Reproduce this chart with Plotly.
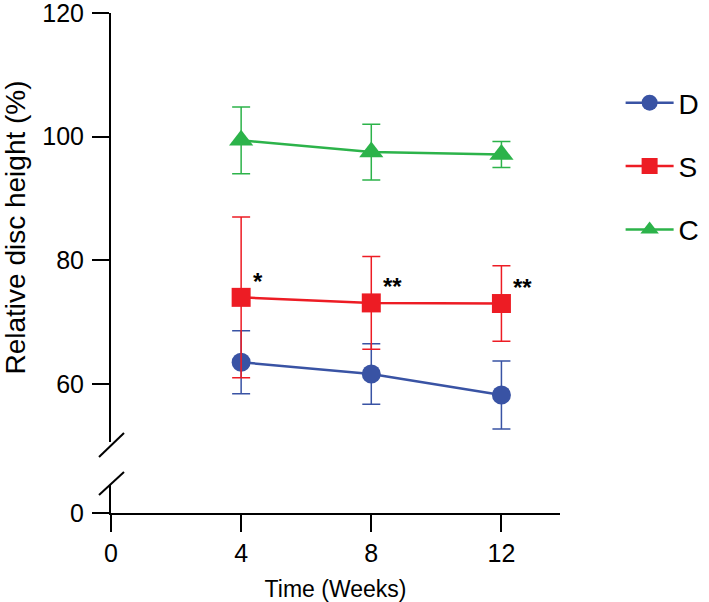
import plotly.graph_objects as go

weeks = [4, 8, 12]
groups = ["D", "S", "C"]
d_mean = [63.5, 61.6, 58.2]
d_err = [5.1, 4.9, 5.5]
s_mean = [74.0, 73.1, 73.0]
s_err = [13.0, 7.5, 6.1]
c_mean = [99.4, 97.5, 97.1]
c_err = [5.4, 4.5, 2.1]
stars = ["*", "**", "**"]

colors = {"D": "#3953a4", "S": "#ed1c24", "C": "#2cb34a"}
symbols = {"D": "circle", "S": "square", "C": "triangle-up"}
series = {"D": (d_mean, d_err), "S": (s_mean, s_err), "C": (c_mean, c_err)}
FONT = "Liberation Sans, Arial, sans-serif"

fig = go.Figure()
for g in groups:
    mean, err = series[g]
    fig.add_trace(
        go.Scatter(
            x=weeks,
            y=mean,
            name=g,
            legendgroup=g,
            mode="lines+markers",
            line=dict(color=colors[g], width=2.5),
            marker=dict(symbol=symbols[g], size=19 if g != "C" else 21, color=colors[g]),
            error_y=dict(type="data", array=err, color=colors[g], thickness=1.5, width=9),
            yaxis="y",
        )
    )

# empty trace so the lower (broken) y axis gets drawn
fig.add_trace(go.Scatter(x=[None], y=[None], yaxis="y2", showlegend=False, hoverinfo="skip"))

# significance marks next to the S points
for w, m, s in zip(weeks, s_mean, stars):
    fig.add_annotation(
        x=w, y=m, text=f"<b>{s}</b>", showarrow=False,
        xanchor="left", yanchor="middle", xshift=10, yshift=16,
        font=dict(size=24, color="black", family=FONT),
    )

# axis break marks (pixel positions -> paper coords)
def px_x(p):
    return (p - 111) / 449


def px_y(p):
    return (513 - p) / 500


for (x0, y0, x1, y1) in [(99, 457, 124, 433), (99, 495, 124, 472)]:
    fig.add_shape(
        type="line", xref="paper", yref="paper",
        x0=px_x(x0), y0=px_y(y0), x1=px_x(x1), y1=px_y(y1),
        line=dict(color="black", width=2),
    )

axis_style = dict(
    showline=True, linecolor="black", linewidth=2,
    ticks="outside", ticklen=17, tickwidth=2, tickcolor="black",
    showgrid=False, zeroline=False, automargin=False,
    ticklabeloverflow="allow",
    tickfont=dict(size=25, color="black", family=FONT),
)

fig.update_layout(
    width=709,
    height=602,
    margin=dict(l=111, r=149, t=13, b=89, autoexpand=False),
    plot_bgcolor="white",
    paper_bgcolor="white",
    font=dict(family=FONT, color="black"),
    xaxis=dict(
        range=[0, 13.8], tickvals=[0, 4, 8, 12], anchor="y2",
        title=dict(text="Time (Weeks)", font=dict(size=23), standoff=15),
        **axis_style,
    ),
    yaxis=dict(
        domain=[0.142, 1], range=[50.6, 120], tickvals=[60, 80, 100, 120], anchor="x",
        title=dict(text="Relative disc height (%)", font=dict(size=28), standoff=17),
        ticklabelstandoff=3,
        **axis_style,
    ),
    yaxis2=dict(
        domain=[0, 0.056], range=[0, 4.5], tickvals=[0], anchor="x",
        ticklabelstandoff=3,
        **axis_style,
    ),
    legend=dict(
        x=1.135, y=0.87, xanchor="left", yanchor="top",
        font=dict(size=28, color="black"),
        tracegroupgap=24,
        itemwidth=48,
        bgcolor="rgba(0,0,0,0)",
    ),
    showlegend=True,
)

# drop the default 8px body margin so the figure fills the window
fig.write_html(
    "out.html",
    config={"displayModeBar": False},
    post_script="document.body.style.margin = '0';",
)
